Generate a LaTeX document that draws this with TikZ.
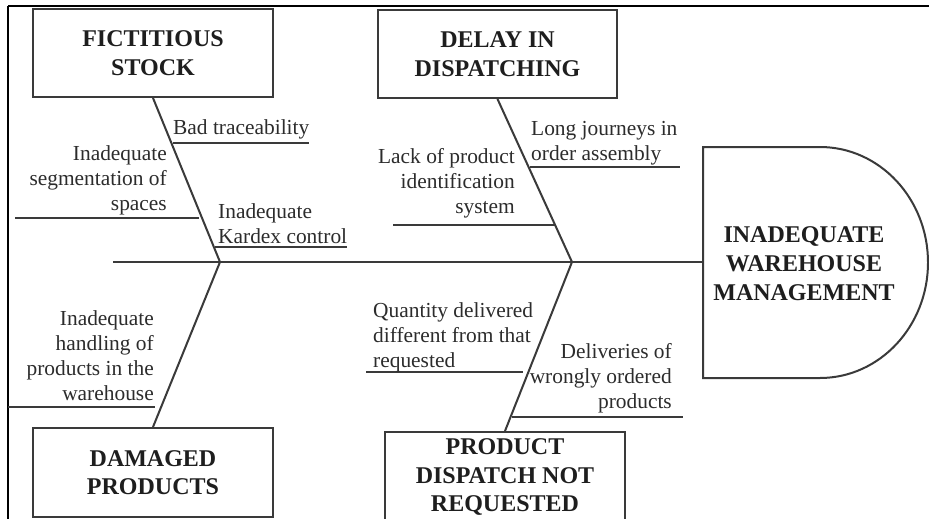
\documentclass[tikz,border=0pt]{standalone}
\usepackage{fontspec}
\setmainfont{Liberation Serif}
\definecolor{linegray}{HTML}{3A3A3A}
\definecolor{ink}{HTML}{2C2C2C}
\definecolor{boldink}{HTML}{1E1E1E}
\begin{document}
\begin{tikzpicture}[x=1pt,y=-1pt,
  line/.style={draw=linegray, line width=2pt},
  frame/.style={draw=black, line width=2pt},
  cause/.style={draw=linegray, line width=2pt, rectangle, inner sep=0pt,
    align=center, font=\fontsize{24}{28.5}\selectfont\bfseries, text=boldink},
  effecttext/.style={inner sep=0pt, align=center,
    font=\fontsize{24}{29}\selectfont\bfseries, text=boldink},
  lbl/.style={inner sep=0pt, font=\fontsize{21.4}{25}\selectfont, text=ink},
]
\useasboundingbox (0,0) rectangle (929,519);
\clip (0,0) rectangle (929,519);
\fill[white] (0,0) rectangle (929,519);

% open frame: top and left edges
\draw[frame] (8,6) -- (929,6);
\draw[frame] (8,6) -- (8,519);

% category boxes
\node[cause, minimum width=240pt, minimum height=88pt] (fict) at (153,53) {FICTITIOUS\\STOCK};
\node[cause, minimum width=239pt, minimum height=88pt] (delay) at (497.5,54) {DELAY IN\\DISPATCHING};
\node[cause, minimum width=240pt, minimum height=89pt] (damg) at (153,472.5) {DAMAGED\\PRODUCTS};
\node[cause, minimum width=240pt, minimum height=90pt] (pdnr) at (505,477) {PRODUCT\\DISPATCH NOT\\REQUESTED};

% effect head
\draw[line] (703,147) -- (820,147)
  arc[start angle=-90, end angle=90, x radius=108, y radius=115.5]
  -- (703,378) -- cycle;
\node[effecttext] (effect) at (804,264) {INADEQUATE\\WAREHOUSE\\MANAGEMENT};

% spine and main bones
\coordinate (tail) at (113,262);
\coordinate (head) at (703,262);
\coordinate (j1) at (220,262);
\coordinate (j2) at (572,262);
\draw[line] (tail) -- (head);
\draw[line] (fict.south) -- (j1);
\draw[line] (delay.south) -- (j2);
\draw[line] (j1) -- (damg.north);
\draw[line] (j2) -- (pdnr.north);

% sub-cause underlines
\coordinate (a1) at (173,143); \coordinate (a2) at (309,143);
\coordinate (b1) at (15,218);  \coordinate (b2) at (199,218);
\coordinate (c1) at (215,247); \coordinate (c2) at (347,247);
\coordinate (d1) at (530,167); \coordinate (d2) at (680,167);
\coordinate (e1) at (393,225); \coordinate (e2) at (555,225);
\coordinate (f1) at (366,372); \coordinate (f2) at (523,372);
\coordinate (g1) at (512,417); \coordinate (g2) at (683,417);
\coordinate (h1) at (8,407);   \coordinate (h2) at (155,407);
\foreach \u in {a,b,c,d,e,f,g,h} \draw[line] (\u1) -- (\u2);

% sub-cause labels
\node[lbl, anchor=north west] (badtr) at (173,116.5) {\strut Bad traceability};
\node[lbl, anchor=north east, align=right] (segm) at (167,142.5)
  {\strut Inadequate\\segmentation of\\spaces};
\node[lbl, anchor=north west, align=left] (kardex) at (218,200.5)
  {\strut Inadequate\\Kardex control};
\node[lbl, anchor=north west, align=left] (longj) at (531,117.5)
  {\strut Long journeys in\\order assembly};
\node[lbl, anchor=north east, align=right] (lack) at (515,145.5)
  {\strut Lack of product\\identification\\system};
\node[lbl, anchor=north west, align=left] (quant) at (373,299.5)
  {\strut Quantity delivered\\different from that\\requested};
\node[lbl, anchor=north east, align=right] (deliv) at (672,340.5)
  {\strut Deliveries of\\wrongly ordered\\products};
\node[lbl, anchor=north east, align=right] (handl) at (154,307.5)
  {\strut Inadequate\\handling of\\products in the\\warehouse};
\end{tikzpicture}
\end{document}
